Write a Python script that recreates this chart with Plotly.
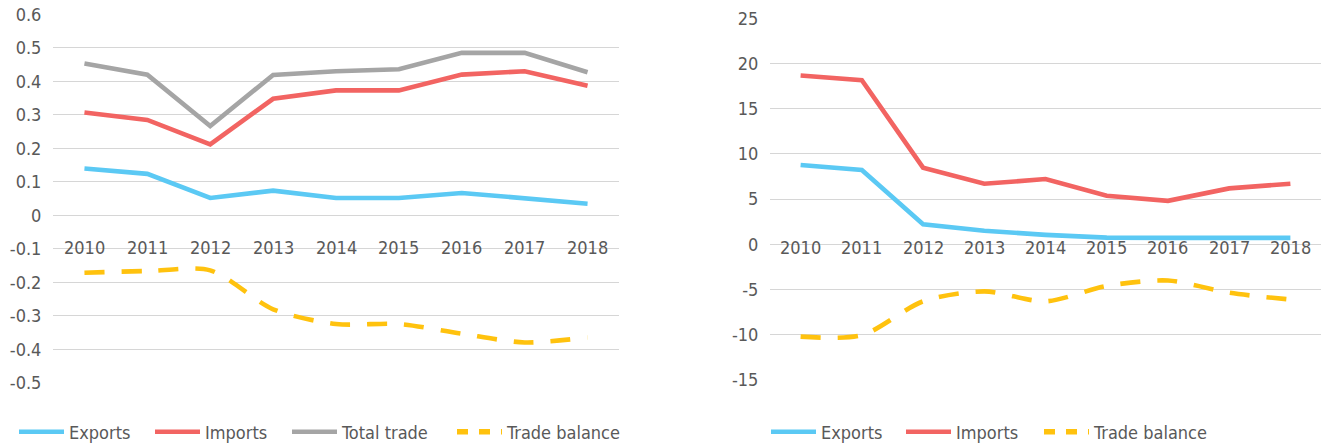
import plotly.graph_objects as go

# ---- data -------------------------------------------------------------
years = ["2010", "2011", "2012", "2013", "2014", "2015", "2016", "2017", "2018"]

# left panel
exports_l = [0.14, 0.124, 0.052, 0.074, 0.052, 0.052, 0.067, 0.052, 0.035]
imports_l = [0.307, 0.285, 0.212, 0.348, 0.373, 0.373, 0.42, 0.43, 0.387]
total_l = [0.453, 0.42, 0.267, 0.419, 0.43, 0.436, 0.485, 0.485, 0.427]
balance_l = [-0.171, -0.166, -0.164, -0.28, -0.324, -0.324, -0.353, -0.379, -0.364]

# right panel
exports_r = [8.78, 8.22, 2.22, 1.5, 1.05, 0.74, 0.72, 0.72, 0.72]
imports_r = [18.67, 18.15, 8.48, 6.7, 7.22, 5.37, 4.81, 6.19, 6.7]
balance_r = [-10.2, -10.05, -6.3, -5.2, -6.3, -4.6, -4.0, -5.35, -6.1]

ticks_l = [0.6, 0.5, 0.4, 0.3, 0.2, 0.1, 0, -0.1, -0.2, -0.3, -0.4, -0.5]
ticktext_l = ["0.6", "0.5", "0.4", "0.3", "0.2", "0.1", "0", "-0.1", "-0.2", "-0.3", "-0.4", "-0.5"]
ticks_r = [25, 20, 15, 10, 5, 0, -5, -10, -15]
ticktext_r = ["25", "20", "15", "10", "5", "0", "-5", "-10", "-15"]

# ---- styling ----------------------------------------------------------
BLUE = "#5bc9f4"
RED = "#f26462"
GREY = "#a5a5a5"
GOLD = "#ffc20e"
TXT = "#595959"
GRID = "#d6d6d6"
FONT = "Liberation Sans Narrow, DejaVu Sans Condensed, Roboto, sans-serif"
FS = 18
LW = 4.6
W, H = 1324, 446

fig = go.Figure()


def line(x, y, color, name, xa, ya, legend, show=True, spline=False, dash=None):
    fig.add_trace(go.Scatter(
        x=x, y=y, name=name, mode="lines",
        line=dict(color=color, width=LW, shape="spline" if spline else "linear",
                  smoothing=0.8, dash=dash),
        xaxis=xa, yaxis=ya, legend=legend, showlegend=show,
        hoverinfo="skip",
    ))


def legend_dash(name, xa, ya, legend):
    # legend-only entry showing the short square-dash swatch
    fig.add_trace(go.Scatter(
        x=[None], y=[None], name=name, mode="lines",
        line=dict(color=GOLD, width=LW + 1, dash="11px,11px"),
        xaxis=xa, yaxis=ya, legend=legend, showlegend=True,
    ))


# left panel traces (each legend entry gets its own legend box)
line(years, exports_l, BLUE, "Exports", "x", "y", "legend")
line(years, imports_l, RED, "Imports", "x", "y", "legend2")
line(years, total_l, GREY, "Total trade", "x", "y", "legend3")
line(years, balance_l, GOLD, "Trade balance", "x", "y", "legend4",
     show=False, spline=True, dash="20px,17px")
legend_dash("Trade balance", "x", "y", "legend4")

# right panel traces
line(years, exports_r, BLUE, "Exports", "x2", "y2", "legend5")
line(years, imports_r, RED, "Imports", "x2", "y2", "legend6")
line(years, balance_r, GOLD, "Trade balance", "x2", "y2", "legend7",
     show=False, spline=True, dash="20px,17px")
legend_dash("Trade balance", "x2", "y2", "legend7")

yaxis_common = dict(
    showgrid=True, gridcolor=GRID, gridwidth=1.3, zeroline=False,
    showline=False, ticks="outside", ticklen=7, tickcolor="rgba(0,0,0,0)",
    tickfont=dict(family=FONT, size=FS, color=TXT), fixedrange=True,
)
xaxis_common = dict(
    type="category", range=[-0.5, 8.5], showgrid=False, zeroline=False,
    showline=False, showticklabels=False, ticks="", fixedrange=True,
)


def legend_at(px):
    return dict(
        x=(px - 6) / W, y=1 - 432 / H,
        orientation="h", xanchor="left", yanchor="middle",
        font=dict(family=FONT, size=FS, color=TXT),
        bgcolor="rgba(0,0,0,0)", itemwidth=45,
    )


fig.update_layout(
    width=W, height=H,
    margin=dict(l=0, r=0, t=0, b=0, autoexpand=False),
    paper_bgcolor="white", plot_bgcolor="white",
    font=dict(family=FONT, size=FS, color=TXT),
    xaxis=dict(domain=[53 / W, 619 / W], anchor="y", **xaxis_common),
    yaxis=dict(domain=[1 - 383 / H, 1 - 14.3 / H], anchor="x", range=[-0.5, 0.6],
               tickvals=ticks_l, ticktext=ticktext_l, **yaxis_common),
    xaxis2=dict(domain=[770 / W, 1321 / W], anchor="y2", **xaxis_common),
    yaxis2=dict(domain=[1 - 380 / H, 1 - 18.3 / H], anchor="x2", range=[-15, 25],
                tickvals=ticks_r, ticktext=ticktext_r, **yaxis_common),
    legend=legend_at(20),
    legend2=legend_at(156),
    legend3=legend_at(293),
    legend4=legend_at(458),
    legend5=legend_at(772),
    legend6=legend_at(907),
    legend7=legend_at(1045),
    showlegend=True,
)

# category labels placed along the axis row of each panel
for i, yr in enumerate(years):
    fig.add_annotation(x=i, y=-0.095, xref="x", yref="y", text=yr, showarrow=False,
                       font=dict(family=FONT, size=FS, color=TXT), yanchor="middle")
    fig.add_annotation(x=i, y=-0.4, xref="x2", yref="y2", text=yr, showarrow=False,
                       font=dict(family=FONT, size=FS, color=TXT), yanchor="middle")

fig.write_html("out.html")
